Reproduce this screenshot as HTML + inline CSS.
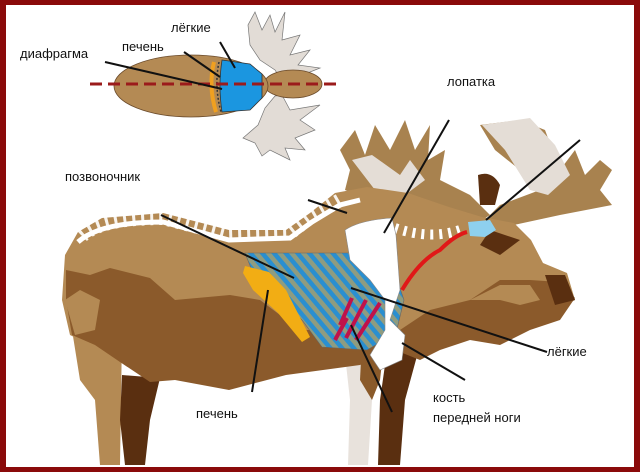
<!DOCTYPE html>
<html><head><meta charset="utf-8"><style>
html,body{margin:0;padding:0;background:#fff}
svg{display:block}
text{font-family:"Liberation Sans","DejaVu Sans",sans-serif;font-size:13px;fill:#111}
</style></head><body>
<svg width="640" height="472" viewBox="0 0 640 472" xmlns="http://www.w3.org/2000/svg">
<defs>
<pattern id="st" patternUnits="userSpaceOnUse" width="9" height="9" patternTransform="rotate(-40)">
<rect width="9" height="9" fill="#8e9c80"/><rect width="4.5" height="9" fill="#2a8fd0"/>
</pattern>
</defs>
<rect x="0" y="0" width="640" height="472" fill="#8a0a0a"/>
<rect x="6" y="5" width="628" height="462" fill="#fff"/>

<!-- top view -->
<path d="M255,12 L262,30 L270,15 L275,32 L285,12 L282,40 L300,35 L290,55 L310,50 L298,65 L320,68 L290,80 L285,86 L275,70 L260,60 L250,45 L248,25 Z" fill="#e2dcd6" stroke="#777" stroke-width="0.7"/>
<path d="M282,95 L290,110 L320,105 L300,120 L315,130 L295,138 L305,150 L285,148 L290,160 L270,150 L262,156 L255,143 L243,138 L258,125 L265,108 L275,96 Z" fill="#e2dcd6" stroke="#777" stroke-width="0.7"/>
<ellipse cx="293" cy="84" rx="29" ry="14" fill="#b48a54" stroke="#6a4a2a" stroke-width="0.8"/>
<ellipse cx="191" cy="86" rx="77" ry="31" fill="#b48a54" stroke="#6a4a2a" stroke-width="0.8"/>
<path d="M222,60 L250,64 L262,74 L262,98 L250,110 L222,112 Q218,86 222,60Z" fill="#1b96e0" stroke="#333" stroke-width="0.8"/>
<path d="M214,62 Q208,86 216,112" fill="none" stroke="#f0a020" stroke-width="4"/>
<path d="M219,62 Q214,86 221,112" fill="none" stroke="#333" stroke-width="1.5" stroke-dasharray="2 2"/>
<line x1="90" y1="84" x2="336" y2="84" stroke="#9b1b1b" stroke-width="3" stroke-dasharray="12 6"/>
<line x1="105" y1="62" x2="222" y2="89" stroke="#111" stroke-width="2"/>
<line x1="184" y1="52" x2="220" y2="77" stroke="#111" stroke-width="2"/>
<line x1="220" y1="42" x2="235" y2="68" stroke="#111" stroke-width="2"/>
<text x="171" y="32">лёгкие</text>
<text x="122" y="51">печень</text>
<text x="20" y="58">диафрагма</text>
<text x="447" y="86">лопатка</text>
<text x="65" y="181">позвоночник</text>

<!-- antlers -->
<path d="M340,150 L355,130 L365,155 L375,125 L390,150 L405,120 L415,150 L430,125 L428,160 L445,150 L440,180 L470,195 L490,215 L470,228 L440,215 L400,200 L370,200 L345,190 L350,170 Z" fill="#a8824f"/>
<path d="M352,160 L372,155 L400,175 L410,160 L425,180 L405,195 L375,190 Z" fill="#e4ddd6"/>
<path d="M480,125 L520,120 L545,130 L560,170 L575,150 L585,175 L600,160 L612,170 L600,190 L612,205 L560,215 L500,228 L480,225 L500,205 L540,190 L520,170 L495,150 Z" fill="#a8824f"/>
<path d="M482,125 L530,118 L555,145 L570,175 L548,195 L530,190 L505,150 Z" fill="#e4ddd6"/>
<path d="M478,175 Q492,170 500,185 L495,205 L480,205 Z" fill="#5a2f10"/>

<!-- hind legs -->
<path d="M72,330 L122,335 L120,465 L100,465 L95,400 L80,380 Z" fill="#b48a54"/>
<path d="M122,375 L160,378 L150,420 L145,465 L125,465 L120,420 Z" fill="#5a2f10"/>
<!-- front legs -->
<path d="M390,330 L420,345 L405,400 L400,465 L378,465 L380,400 Z" fill="#5a2f10"/>
<path d="M345,355 L368,350 L372,400 L368,465 L348,465 L350,400 Z" fill="#e8e2dc"/>
<path d="M362,340 L385,335 L380,380 L372,400 L360,380 Z" fill="#8a5a2a"/>

<!-- body light -->
<path d="M62,300 L65,255 L78,232 L102,218 L163,213 L229,230 L286,230 L310,213 L335,193 L367,187 L408,193 L449,207 L482,217 L514,223 L531,240 L543,263 L567,273 L575,300 L555,310 L539,318 L498,322 L473,332 L449,342 L429,355 L395,345 L359,363 L286,373 L229,387 L175,377 L155,380 L120,360 L90,345 L70,335 Z" fill="#b48a54"/>
<!-- dark lower body -->
<path d="M66,270 L90,275 L110,268 L150,278 L175,300 L230,295 L260,300 L300,330 L360,330 L400,330 L430,310 L470,300 L500,280 L530,280 L560,282 L575,298 L560,320 L530,330 L500,345 L470,340 L440,350 L420,360 L395,350 L360,365 L286,375 L229,390 L175,380 L150,382 L120,362 L95,345 L72,335 L66,300 Z" fill="#8b5a2b"/>
<path d="M65,300 L80,290 L100,300 L95,330 L75,335 Z" fill="#b48a54"/>
<path d="M470,300 L500,285 L530,285 L540,300 L520,305 L500,300 Z" fill="#b48a54"/>
<path d="M490,230 L520,240 L500,255 L480,245 Z" fill="#5a2f10"/>
<path d="M545,275 L565,275 L575,300 L555,305 Z" fill="#5a2f10"/>

<!-- spine -->
<path d="M78,242 Q100,222 163,222 L229,240 L290,238 L312,222 L340,205 L360,200" fill="none" stroke="#fff" stroke-width="5"/>
<path d="M82,236 Q100,218 163,218 L229,235 L290,233 L312,216 L340,200" fill="none" stroke="#fff" stroke-width="14" stroke-dasharray="3 6" opacity="0.9"/>
<path d="M395,228 Q430,240 460,230" fill="none" stroke="#fff" stroke-width="10" stroke-dasharray="3 6"/>

<!-- chest stripes -->
<path d="M245,253 L388,253 L404,300 L396,333 L367,350 L322,347 L302,320 L253,273 Z" fill="url(#st)" stroke="#666" stroke-width="0.6"/>
<path d="M245,266 L269,272 L286,290 L310,337 L302,342 L278,313 L253,290 L243,273 Z" fill="#f2ad14"/>
<g stroke="#c0124a" stroke-width="4">
<line x1="340" y1="325" x2="352" y2="298"/>
<line x1="346" y1="338" x2="366" y2="300"/>
<line x1="356" y1="340" x2="380" y2="303"/>
<line x1="335" y1="340" x2="347" y2="318"/>
</g>
<!-- scapula -->
<path d="M345,230 Q360,220 392,218 L396,235 L400,290 L390,320 L405,335 L402,360 L380,370 L370,355 L385,330 L385,300 L370,280 L350,260 Z" fill="#fff" stroke="#888" stroke-width="0.6"/>
<!-- trachea -->
<path d="M402,290 Q420,260 440,250 Q455,235 467,232" fill="none" stroke="#e01818" stroke-width="4"/>
<path d="M468,222 L490,220 L496,230 L485,237 L470,236 Z" fill="#8ed0ee"/>

<!-- leader lines -->
<g stroke="#111" stroke-width="2">
<line x1="449" y1="120" x2="384" y2="233"/>
<line x1="580" y1="140" x2="486" y2="220"/>
<line x1="308" y1="200" x2="347" y2="213"/>
<line x1="161" y1="215" x2="294" y2="278"/>
<line x1="351" y1="288" x2="547" y2="352"/>
<line x1="268" y1="290" x2="252" y2="392"/>
<line x1="402" y1="343" x2="465" y2="380"/>
<line x1="351" y1="325" x2="392" y2="412"/>
</g>
<text x="547" y="356">лёгкие</text>
<text x="196" y="418">печень</text>
<text x="433" y="402">кость</text>
<text x="433" y="422">передней ноги</text>
</svg>
</body></html>
